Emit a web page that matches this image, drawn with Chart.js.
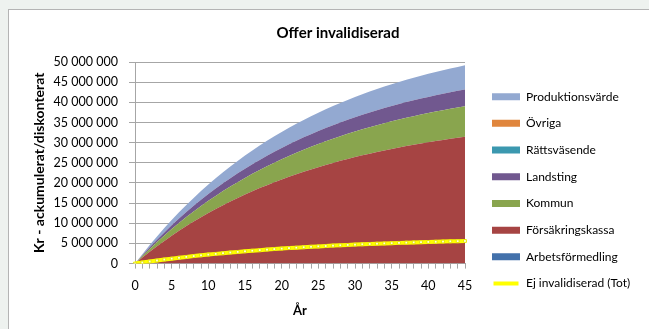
<!DOCTYPE html>
<html>
<head>
<meta charset="utf-8">
<script src="https://cdn.jsdelivr.net/npm/chart.js@4.4.0/dist/chart.umd.min.js"></script>
<style>
  html, body { margin: 0; padding: 0; background: #eef2ef; overflow: hidden; }
  #box { position: absolute; left: 8px; top: 9px; width: 660px; height: 330px; background: #fff;
         border-top: 1px solid #b4b4b4; border-left: 1px solid #b4b4b4; }
  canvas { position: absolute; left: 0; top: 0; }
</style>
</head>
<body>
<div id="box"><canvas id="chart" width="658" height="319"></canvas></div>
<script>
// År 0-45, belopp i miljoner kr (ackumulerat/diskonterat)
const years = [0, 1, 2, 3, 4, 5, 6, 7, 8, 9, 10, 11, 12, 13, 14, 15, 16, 17, 18, 19, 20, 21, 22,
  23, 24, 25, 26, 27, 28, 29, 30, 31, 32, 33, 34, 35, 36, 37, 38, 39, 40, 41, 42, 43, 44, 45];

const arbetsformedling = [0, 0, 0, 0, 0, 0, 0, 0, 0, 0, 0, 0, 0, 0, 0, 0, 0, 0, 0, 0, 0, 0, 0,
  0, 0, 0, 0, 0, 0, 0, 0, 0, 0, 0, 0, 0, 0, 0, 0, 0, 0, 0, 0, 0, 0, 0];
const forsakringskassa = [0, 1.50, 2.93, 4.31, 5.63, 6.91, 8.13, 9.30, 10.42, 11.50, 12.54, 13.53,
  14.49, 15.40, 16.28, 17.13, 17.94, 18.72, 19.46, 20.18, 20.87, 21.53, 22.17, 22.78, 23.36,
  23.92, 24.46, 24.98, 25.48, 25.95, 26.41, 26.85, 27.27, 27.68, 28.07, 28.44, 28.80, 29.14,
  29.47, 29.79, 30.09, 30.39, 30.67, 30.94, 31.19, 31.44];
const kommun = [0, 0.36, 0.71, 1.04, 1.36, 1.66, 1.96, 2.24, 2.51, 2.77, 3.02, 3.26, 3.49, 3.71,
  3.92, 4.12, 4.32, 4.50, 4.68, 4.86, 5.02, 5.18, 5.33, 5.48, 5.62, 5.76, 5.89, 6.01, 6.13, 6.25,
  6.36, 6.46, 6.56, 6.66, 6.75, 6.84, 6.93, 7.01, 7.09, 7.17, 7.24, 7.31, 7.38, 7.44, 7.51, 7.57];
const landsting = [0, 0.20, 0.39, 0.58, 0.75, 0.92, 1.09, 1.24, 1.39, 1.54, 1.68, 1.81, 1.94, 2.06,
  2.18, 2.29, 2.40, 2.50, 2.60, 2.70, 2.79, 2.88, 2.96, 3.05, 3.12, 3.20, 3.27, 3.34, 3.41, 3.47,
  3.53, 3.59, 3.65, 3.70, 3.75, 3.80, 3.85, 3.90, 3.94, 3.98, 4.02, 4.06, 4.10, 4.14, 4.17, 4.20];
const rattsvasende = [0, 0, 0, 0, 0, 0, 0, 0, 0, 0, 0, 0, 0, 0, 0, 0, 0, 0, 0, 0, 0, 0, 0,
  0, 0, 0, 0, 0, 0, 0, 0, 0, 0, 0, 0, 0, 0, 0, 0, 0, 0, 0, 0, 0, 0, 0];
const ovriga = [0, 0, 0, 0, 0, 0, 0, 0, 0, 0, 0, 0, 0, 0, 0, 0, 0, 0, 0, 0, 0, 0, 0,
  0, 0, 0, 0, 0, 0, 0, 0, 0, 0, 0, 0, 0, 0, 0, 0, 0, 0, 0, 0, 0, 0, 0];
const produktionsvarde = [0, 0.28, 0.56, 0.82, 1.07, 1.31, 1.54, 1.77, 1.98, 2.18, 2.38, 2.57,
  2.75, 2.92, 3.09, 3.25, 3.41, 3.55, 3.70, 3.83, 3.96, 4.09, 4.21, 4.32, 4.44, 4.54, 4.64, 4.74,
  4.84, 4.93, 5.01, 5.10, 5.18, 5.25, 5.33, 5.40, 5.47, 5.53, 5.60, 5.66, 5.71, 5.77, 5.82, 5.87,
  5.92, 5.97];
const ejInvalidiserad = [0, 0.27, 0.52, 0.77, 1.01, 1.23, 1.45, 1.66, 1.86, 2.05, 2.24, 2.41, 2.58,
  2.75, 2.90, 3.05, 3.20, 3.34, 3.47, 3.60, 3.72, 3.84, 3.95, 4.06, 4.17, 4.27, 4.36, 4.46, 4.54,
  4.63, 4.71, 4.79, 4.86, 4.94, 5.01, 5.07, 5.14, 5.20, 5.26, 5.31, 5.37, 5.42, 5.47, 5.52, 5.56,
  5.61];

const yTicksMax = 50;
const yTicksStep = 5;

function fmtKr(v) {
  return String(Math.round(v * 1000000)).replace(/\B(?=(\d{3})+(?!\d))/g, ' ');
}

function area(label, data, color, first) {
  return {
    label, data,
    backgroundColor: color,
    borderColor: 'rgba(0,0,0,0)',
    borderWidth: 0,
    pointRadius: 0,
    fill: first ? 'origin' : '-1',
    stack: 'kostnad'
  };
}

// put title and legend where Excel had them (canvas coords)
const placeBoxes = {
  id: 'placeBoxes',
  afterLayout(chart) {
    const t = chart.titleBlock;
    const tx = 329 - (t.left + t.right) / 2;
    t.left += tx; t.right += tx;

    const l = chart.legend;
    const dx = 483 - (l.left + l.options.labels.padding);
    const dy = 25;
    l.left += dx; l.right += dx;
    l.top += dy; l.bottom += dy;
    // room for the longest label so it is not cut
    l.width += 60; l.right += 60;
    l.maxWidth = 500;
  }
};

Chart.defaults.font.family = "Lato, 'Open Sans', sans-serif";
Chart.defaults.font.size = 12.5;
Chart.defaults.color = '#000';

const grey = '#a6a6a6';

new Chart(document.getElementById('chart'), {
  type: 'line',
  plugins: [placeBoxes],
  data: {
    labels: years,
    datasets: [
      area('Arbetsförmedling', arbetsformedling, '#4371ab', true),
      area('Försäkringskassa', forsakringskassa, '#a64443'),
      area('Kommun', kommun, '#89a54e'),
      area('Landsting', landsting, '#71588f'),
      area('Rättsväsende', rattsvasende, '#3b98af'),
      area('Övriga', ovriga, '#e0863d'),
      area('Produktionsvärde', produktionsvarde, '#93a9d1'),
      {
        label: 'Ej invalidiserad (Tot)',
        data: ejInvalidiserad,
        borderColor: '#ffff00',
        backgroundColor: '#ffff00',
        borderWidth: 4,
        pointStyle: 'rect',
        pointRadius: 2,
        pointBorderWidth: 1,
        pointBorderColor: '#e8e800',
        pointBackgroundColor: '#ffffe0',
        fill: false,
        stack: 'tot',
        order: -1
      }
    ]
  },
  options: {
    responsive: false,
    animation: false,
    devicePixelRatio: 1,
    layout: { padding: { left: 18, right: 56, top: 0, bottom: 8.8 } },
    plugins: {
      title: {
        display: true,
        text: 'Offer invalidiserad',
        font: { size: 15, weight: 'bold' },
        padding: { top: 14, bottom: 20 }
      },
      legend: {
        position: 'right',
        labels: {
          boxWidth: 28,
          boxHeight: 7,
          padding: 14.7,
          font: { size: 12 },
          generateLabels: chart => {
            const items = Chart.defaults.plugins.legend.labels.generateLabels(chart);
            items.forEach(it => {
              if (it.datasetIndex === 7) {
                it.fillStyle = '#ffff00';
                it.strokeStyle = '#ffffff';
                it.lineWidth = 3;
              } else {
                it.lineWidth = 0;
              }
            });
            return items;
          },
          sort: (a, b) => {
            const key = it => it.datasetIndex === 7 ? 100 : -it.datasetIndex;
            return key(a) - key(b);
          }
        }
      },
      tooltip: { enabled: false }
    },
    scales: {
      x: {
        type: 'category',
        offset: false,
        grid: { drawOnChartArea: false, drawTicks: true, tickLength: 5, color: grey },
        border: { color: grey },
        ticks: {
          autoSkip: false,
          maxRotation: 0,
          padding: 9.5,
          callback: function(val, i) { return years[i] % 5 === 0 ? String(years[i]) : ''; }
        },
        title: { display: true, text: 'År', font: { size: 13, weight: 'bold' }, padding: { top: 0, bottom: 2 } }
      },
      y: {
        stacked: true,
        min: 0,
        max: yTicksMax,
        afterFit: s => { s.width = 108; },
        grid: { color: grey, tickLength: 6 },
        border: { color: grey },
        ticks: { stepSize: yTicksStep, padding: 11, callback: v => fmtKr(v) },
        title: {
          display: true,
          text: 'Kr - ackumulerat/diskonterat',
          font: { size: 14, weight: 'bold' },
          padding: { top: 4, bottom: 2 }
        }
      }
    }
  }
});
</script>
</body>
</html>
